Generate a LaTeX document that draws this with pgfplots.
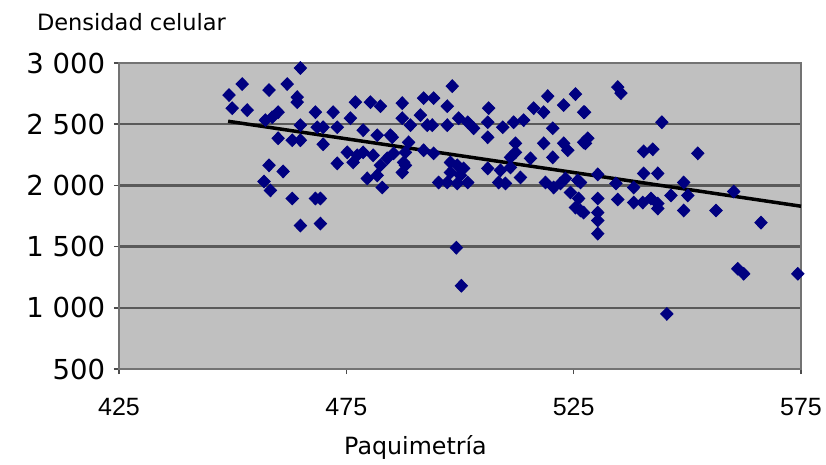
\documentclass[border=0pt]{standalone}
\usepackage{pgfplots}
\pgfplotsset{compat=1.18}
\usepackage{pgfplotstable}
\usepackage{fontspec}
\setmainfont{DejaVu Sans}
\newfontfamily\tickfont{Liberation Sans}

\definecolor{plotbg}{HTML}{C0C0C0}
\definecolor{navy}{HTML}{000080}
\definecolor{gridgray}{HTML}{5A5A5A}

% paquimetria vs densidad celular
\pgfplotstableread{
x y
449.2 2738
452.1 2828
449.9 2631
453.2 2615
458.0 2779
462.0 2828
464.9 2959
464.2 2721
464.2 2680
468.2 2598
472.1 2598
477.0 2680
480.3 2680
482.5 2647
460.0 2598
458.7 2557
457.2 2533
475.9 2549
464.9 2492
468.6 2475
469.9 2475
473.0 2475
460.0 2385
463.1 2369
464.9 2369
469.9 2336
478.7 2451
481.8 2410
485.1 2393
475.2 2270
477.4 2246
478.7 2270
476.5 2188
473.0 2180
480.9 2246
482.5 2164
484.0 2221
479.6 2057
481.8 2082
482.9 1983
458.0 2164
461.1 2114
456.9 2032
458.3 1959
463.1 1893
468.2 1893
469.3 1893
464.9 1672
469.3 1688
498.3 2811
487.3 2672
492.0 2713
494.2 2713
497.2 2647
506.3 2631
487.3 2549
491.3 2574
489.1 2492
492.8 2492
493.9 2492
497.2 2492
499.7 2549
501.7 2516
503.0 2467
484.7 2410
506.1 2516
506.1 2393
509.4 2475
511.8 2516
514.0 2533
516.2 2631
518.4 2598
519.3 2729
522.8 2656
525.4 2746
527.2 2598
520.4 2467
518.4 2344
522.8 2344
523.7 2287
527.2 2352
520.4 2229
488.7 2352
488.0 2270
488.0 2164
487.3 2106
487.6 2188
485.4 2262
492.0 2287
494.2 2262
497.9 2188
499.4 2164
500.8 2139
497.9 2106
500.1 2082
497.2 2024
499.4 2016
495.3 2024
501.7 2024
512.2 2344
512.2 2270
511.1 2229
515.5 2221
506.1 2139
508.9 2123
511.1 2147
508.5 2024
510.0 2016
513.3 2065
518.8 2024
520.6 1983
522.1 2016
523.2 2057
525.9 2041
524.3 1942
526.1 1893
525.4 1819
526.5 1795
499.2 1491
500.3 1180
534.7 2803
535.4 2754
527.4 2598
544.4 2516
528.1 2385
527.6 2344
540.4 2278
542.4 2295
552.3 2262
526.5 2024
530.3 2090
540.4 2098
543.5 2098
549.2 2024
560.2 1950
534.3 2016
538.2 1983
530.3 1893
534.7 1885
538.2 1860
540.2 1860
542.0 1893
543.5 1852
546.4 1918
550.1 1918
530.3 1778
543.5 1811
549.2 1795
556.3 1795
530.3 1713
530.3 1606
527.2 1778
566.2 1696
561.1 1319
562.4 1278
574.3 1278
545.5 950
}\cells

\begin{document}
\begin{tikzpicture}[x=1pt,y=1pt]
\path[use as bounding box] (-47.6,-38) rectangle (282.8,147.6);
\begin{axis}[
    at={(0,0)}, anchor=south west,
    width=272.8pt, height=122.4pt, scale only axis,
    xmin=425, xmax=575, ymin=500, ymax=3000,
    xtick={425,475,525,575},
    ytick={500,1000,1500,2000,2500,3000},
    yticklabels={500,1 000,1 500,2 000,2 500,3 000},
    /pgf/number format/assume math mode=true,
    axis background/.style={fill=plotbg},
    ymajorgrids, grid style={gridgray, line width=0.9pt},
    axis line style={draw=black!55, line width=0.8pt},
    tick align=outside, major tick length=2pt,
    tick style={black!70, line width=0.6pt},
    xtick pos=bottom, ytick pos=left,
    xticklabel style={font=\tickfont\fontsize{10}{12}\selectfont, yshift=-6pt},
    yticklabel style={font=\fontsize{11}{13}\selectfont},
    clip=false
]
\addplot[only marks, mark=diamond*, mark size=2.5pt, color=navy,
    mark options={xscale=1.3}] table[x=x, y=y] {\cells};
\addplot[black, line width=1.4pt, mark=none] coordinates {(449,2524) (575,1830)};
\end{axis}
\node[font=\fontsize{9}{11}\selectfont] at (5,138.8) {Densidad celular};
\node[font=\fontsize{9.5}{11}\selectfont] at (118.6,-31.2) {Paquimetría};
\end{tikzpicture}
\end{document}
